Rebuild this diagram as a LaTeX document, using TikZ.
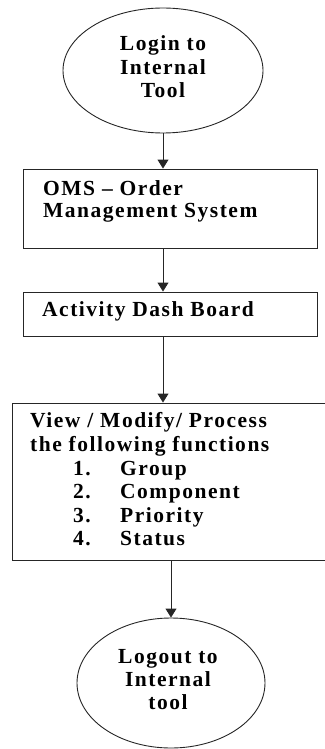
\documentclass[tikz,border=0pt]{standalone}
\usepackage{fontspec}
\setmainfont{Liberation Serif}[LetterSpace=7]
\usetikzlibrary{arrows.meta,shapes.geometric}
\tikzset{
  shapeline/.style={draw=black!85, line width=0.9pt},
  oval/.style={shapeline, ellipse, inner sep=0pt},
  box/.style={shapeline, rectangle, inner sep=0pt},
  txt/.style={inner sep=0pt, font=\fontsize{21.5}{23.5}\selectfont\bfseries, text=black},
  arr/.style={draw=black!85, line width=0.9pt, -{Triangle[width=11pt,length=9pt]}}
}
\begin{document}
\begin{tikzpicture}[x=1pt,y=-1pt]
\useasboundingbox (0,0) rectangle (324,749);
% shapes
\node[oval, minimum width=200pt, minimum height=125pt] (login) at (163,70.5) {};
\node[box, minimum width=294pt, minimum height=79pt] (oms) at (170,208.5) {};
\node[box, minimum width=294pt, minimum height=44pt] (dash) at (170,314) {};
\node[box, minimum width=324pt, minimum height=157pt] (funcs) at (174,481.5) {};
\node[oval, minimum width=188pt, minimum height=130pt] (logout) at (171,683) {};
% texts
\node[txt, anchor=base] (t1a) at (163,51) {Login to};
\node[txt, anchor=base] (t1b) at (163,75) {Internal};
\node[txt, anchor=base] (t1c) at (163,98) {Tool};
\node[txt, anchor=base west] (t2a) at (43,195) {OMS -- Order};
\node[txt, anchor=base west] (t2b) at (43,217) {Management System};
\node[txt, anchor=base west] (t3) at (42,316) {Activity Dash Board};
\node[txt, anchor=base west] (t4a) at (30,427) {View / Modify/ Process};
\node[txt, anchor=base west] (t4b) at (30,451) {the following functions};
\node[txt, anchor=base west] (n1) at (73,475) {1.};
\node[txt, anchor=base west] (i1) at (120,475) {Group};
\node[txt, anchor=base west] (n2) at (73,498) {2.};
\node[txt, anchor=base west] (i2) at (120,498) {Component};
\node[txt, anchor=base west] (n3) at (73,522) {3.};
\node[txt, anchor=base west] (i3) at (120,522) {Priority};
\node[txt, anchor=base west] (n4) at (73,545) {4.};
\node[txt, anchor=base west] (i4) at (120,545) {Status};
\node[txt, anchor=base] (t5a) at (168,663) {Logout to};
\node[txt, anchor=base] (t5b) at (168,686) {Internal};
\node[txt, anchor=base] (t5c) at (168,709) {tool};
% connectors
\draw[arr] (login.south) -- (login.south |- oms.north);
\draw[arr] (oms.south -| login.south) -- (dash.north -| login.south);
\draw[arr] (dash.south -| login.south) -- (funcs.north -| login.south);
\draw[arr] (funcs.south -| logout.north) -- (logout.north);
\end{tikzpicture}
\end{document}
